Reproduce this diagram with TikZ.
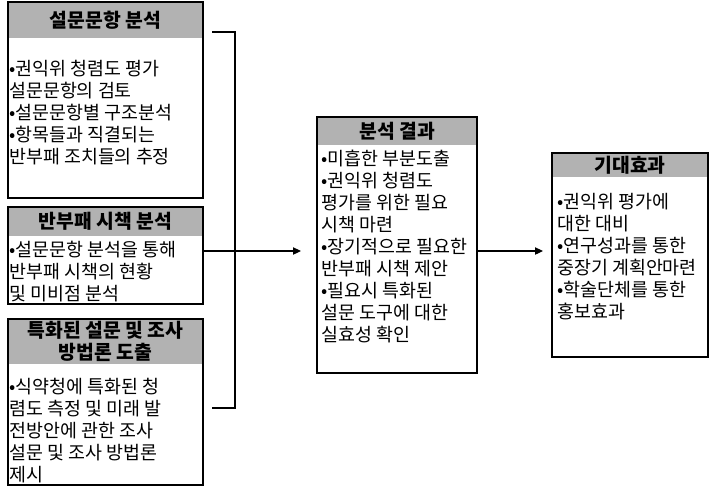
\documentclass[tikz,border=0pt]{standalone}
\usepackage{fontspec}
\setmainfont{Noto Sans CJK KR}
\usetikzlibrary{arrows.meta}
\definecolor{hdr}{RGB}{178,178,178}
\begin{document}
\begin{tikzpicture}[x=0.75pt,y=-0.75pt,
  frame/.style={draw=black,line width=0.8pt,anchor=north west,inner sep=0pt,outer sep=0pt},
  hdrbox/.style={fill=hdr,anchor=north west,inner sep=0pt,outer sep=0pt},
  ttl/.style={font=\fontsize{14.5pt}{17pt}\selectfont\bfseries,align=center,inner sep=0pt},
  body/.style={font=\fontsize{13.8pt}{16.5pt}\selectfont,align=left,anchor=north west,inner sep=0pt},
  conn/.style={line width=0.8pt},
  arr/.style={conn,-{Triangle[length=6pt,width=5.5pt]}}]
\useasboundingbox[fill=white] (0,0) rectangle (713,487);
% box 1
\node[hdrbox,minimum width=146.25pt,minimum height=27pt] (b1h) at (8,2) {};
\node[frame,minimum width=146.25pt,minimum height=147pt] (b1) at (8,2) {};
\node[ttl] (b1t) at (b1h.center) {설문문항 분석};
\node[body] (b1b) at (9,60) {•권익위 청렴도 평가\\설문문항의 검토\\•설문문항별 구조분석\\•항목들과 직결되는\\반부패 조치들의 추정};
% box 2
\node[hdrbox,minimum width=146.25pt,minimum height=21.75pt] (b2h) at (8,207) {};
\node[frame,minimum width=146.25pt,minimum height=72.75pt] (b2) at (8,207) {};
\node[ttl] (b2t) at (b2h.center) {반부패 시책 분석};
\node[body] (b2b) at (9,241) {•설문문항 분석을 통해\\반부패 시책의 현황\\및 미비점 분석};
% box 3
\node[hdrbox,minimum width=146.25pt,minimum height=33.75pt] (b3h) at (8,319) {};
\node[frame,minimum width=146.25pt,minimum height=124.5pt] (b3) at (8,319) {};
\node[ttl] (b3t) at (b3h.center) {특화된 설문 및 조사\\방법론 도출};
\node[body] (b3b) at (9,378) {•식약청에 특화된 청\\렴도 측정 및 미래 발\\전방안에 관한 조사\\설문 및 조사 방법론\\제시};
% centre box
\node[hdrbox,minimum width=120pt,minimum height=21pt] (ch) at (317,117) {};
\node[frame,minimum width=120pt,minimum height=192pt] (c) at (317,117) {};
\node[ttl] (ct) at (ch.center) {분석 결과};
\node[body] (cb) at (321,150) {•미흡한 부분도출\\•권익위 청렴도\\평가를 위한 필요\\시책 마련\\•장기적으로 필요한\\반부패 시책 제안\\•필요시 특화된\\설문 도구에 대한\\실효성 확인};
% right box
\node[hdrbox,minimum width=117pt,minimum height=18pt] (rh) at (552,153) {};
\node[frame,minimum width=117pt,minimum height=153pt] (r) at (552,153) {};
\node[ttl] (rt) at (rh.center) {기대효과};
\node[body] (rb) at (557,193) {•권익위 평가에\\대한 대비\\•연구성과를 통한\\중장기 계획안마련\\•학술단체를 통한\\홍보효과};
% connectors
\coordinate (brTL) at (212,32);
\coordinate (brTR) at (235,32);
\coordinate (brBR) at (235,408);
\coordinate (brBL) at (212,408);
\coordinate (a1end) at (301,251);
\coordinate (a2end) at (543,251);
\draw[conn] (brTL) -- (brTR) -- (brBR) -- (brBL);
\draw[arr] (b2.east |- a1end) -- (a1end);
\draw[arr] (c.east |- a2end) -- (a2end);
\end{tikzpicture}
\end{document}
